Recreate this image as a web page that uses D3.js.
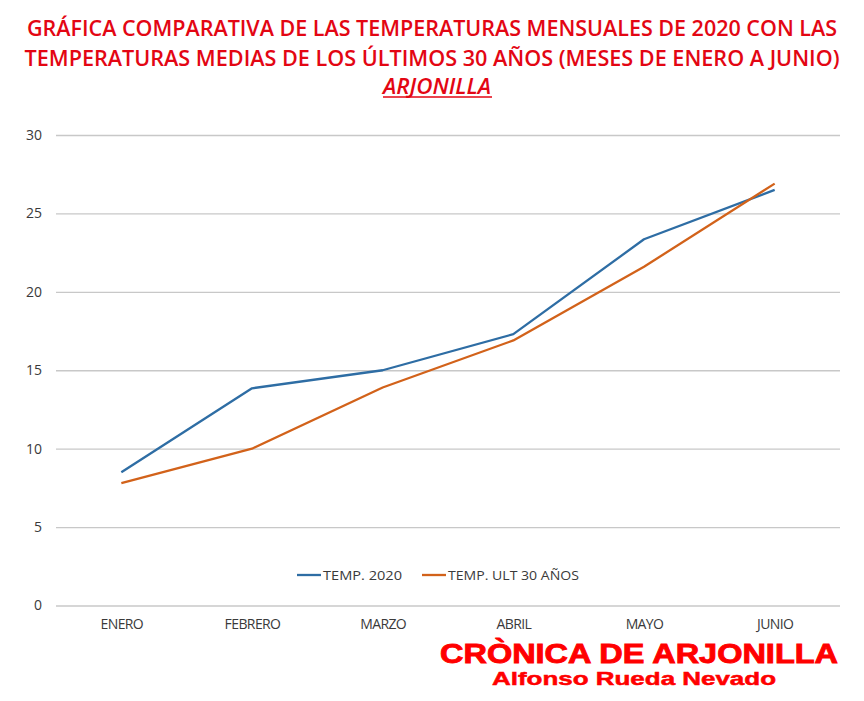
<!DOCTYPE html>
<html><head><meta charset="utf-8">
<script src="https://cdn.jsdelivr.net/npm/d3@7/dist/d3.min.js"></script>
<style>body{margin:0;background:#fff}svg{display:block}</style>
</head><body>
<svg id="c" width="864" height="701"></svg>
<script>
const months = ["ENERO","FEBRERO","MARZO","ABRIL","MAYO","JUNIO"];
const temp2020 = [8.5, 13.85, 15.0, 17.3, 23.35, 26.5];
const tempUlt30 = [7.8, 10.0, 13.9, 16.9, 21.6, 26.9];
const yTicks = [0,5,10,15,20,25,30];
const seriesNames = ["TEMP. 2020","TEMP. ULT 30 AÑOS"];
const colors = ["#2e6da4","#d2621a"];

const svg = d3.select("#c");
const W=864,H=701;
svg.append("rect").attr("width",W).attr("height",H).attr("fill","#fff");

const pLeft=56,pRight=840,pTop=135,pBottom=605.5;
const x = d3.scalePoint().domain(months).range([pLeft,pRight]).padding(0.5);
const y = d3.scaleLinear().domain([0,30]).range([pBottom,pTop]);

// title
const tf = "'Open Sans','Liberation Sans',sans-serif";
const title = svg.append("g").attr("fill","#e30613").attr("font-family",tf).attr("font-weight","600").attr("font-size",21);
title.append("text").attr("x",432).attr("y",36).attr("text-anchor","middle").attr("textLength",810).attr("lengthAdjust","spacingAndGlyphs")
  .text("GRÁFICA COMPARATIVA DE LAS TEMPERATURAS MENSUALES DE 2020 CON LAS");
title.append("text").attr("x",432).attr("y",66).attr("text-anchor","middle").attr("textLength",815).attr("lengthAdjust","spacingAndGlyphs")
  .text("TEMPERATURAS MEDIAS DE LOS ÚLTIMOS 30 AÑOS (MESES DE ENERO A JUNIO)");
title.append("text").attr("x",437).attr("y",94).attr("text-anchor","middle").attr("font-style","italic").attr("textLength",108).attr("lengthAdjust","spacingAndGlyphs")
  .text("ARJONILLA");
svg.append("line").attr("x1",383).attr("x2",492).attr("y1",97).attr("y2",97).attr("stroke","#e30613").attr("stroke-width",1.5);

// grid
const yAxis = d3.axisLeft(y).tickValues(yTicks).tickSize(-(pRight-pLeft)).tickPadding(14);
const gy = svg.append("g").attr("transform",`translate(${pLeft},0)`).call(yAxis);
gy.select(".domain").remove();
gy.selectAll(".tick line").attr("stroke","#c8c8c8").attr("stroke-width",1.3);
gy.selectAll(".tick text").attr("fill","#3a3a3a").attr("font-family","'Open Sans',sans-serif").attr("font-size",14);

const xAxis = d3.axisBottom(x).tickSize(0).tickPadding(14);
const gx = svg.append("g").attr("transform",`translate(0,${pBottom})`).call(xAxis);
gx.select(".domain").remove();
gx.selectAll(".tick text").attr("fill","#3a3a3a").attr("font-family","'Open Sans',sans-serif").attr("font-size",14)
  .attr("letter-spacing","-0.6");

// lines
const line = d3.line().x((d,i)=>x(months[i])).y(d=>y(d));
[temp2020,tempUlt30].forEach((s,k)=>{
  svg.append("path").datum(s).attr("d",line).attr("fill","none").attr("stroke",colors[k]).attr("stroke-width",2.3).attr("stroke-linejoin","round");
});

// legend
const lg = svg.append("g").attr("font-family","'Open Sans',sans-serif").attr("font-size",13.5).attr("fill","#3a3a3a");
const lx=[297,422];
const lw=[79,131];
seriesNames.forEach((n,k)=>{
  lg.append("line").attr("x1",lx[k]).attr("x2",lx[k]+24).attr("y1",575).attr("y2",575).attr("stroke",colors[k]).attr("stroke-width",2.3);
  lg.append("text").attr("x",lx[k]+26).attr("y",580).attr("textLength",lw[k]).attr("lengthAdjust","spacingAndGlyphs").text(n);
});

// watermark
svg.append("text").attr("x",639).attr("y",663).attr("text-anchor","middle").attr("fill","#ff0000")
  .attr("font-family","'Liberation Sans',Arial,sans-serif").attr("font-weight","900").attr("font-size",27)
  .attr("stroke","#ff0000").attr("stroke-width",0.9)
  .attr("textLength",398).attr("lengthAdjust","spacingAndGlyphs").text("CRÒNICA DE ARJONILLA");
svg.append("text").attr("x",634).attr("y",685).attr("text-anchor","middle").attr("fill","#ff0000")
  .attr("font-family","'Liberation Sans',Arial,sans-serif").attr("font-weight","700").attr("font-size",18.5)
  .attr("stroke","#ff0000").attr("stroke-width",0.5)
  .attr("textLength",284).attr("lengthAdjust","spacingAndGlyphs").text("Alfonso Rueda Nevado");
</script>
</body></html>
